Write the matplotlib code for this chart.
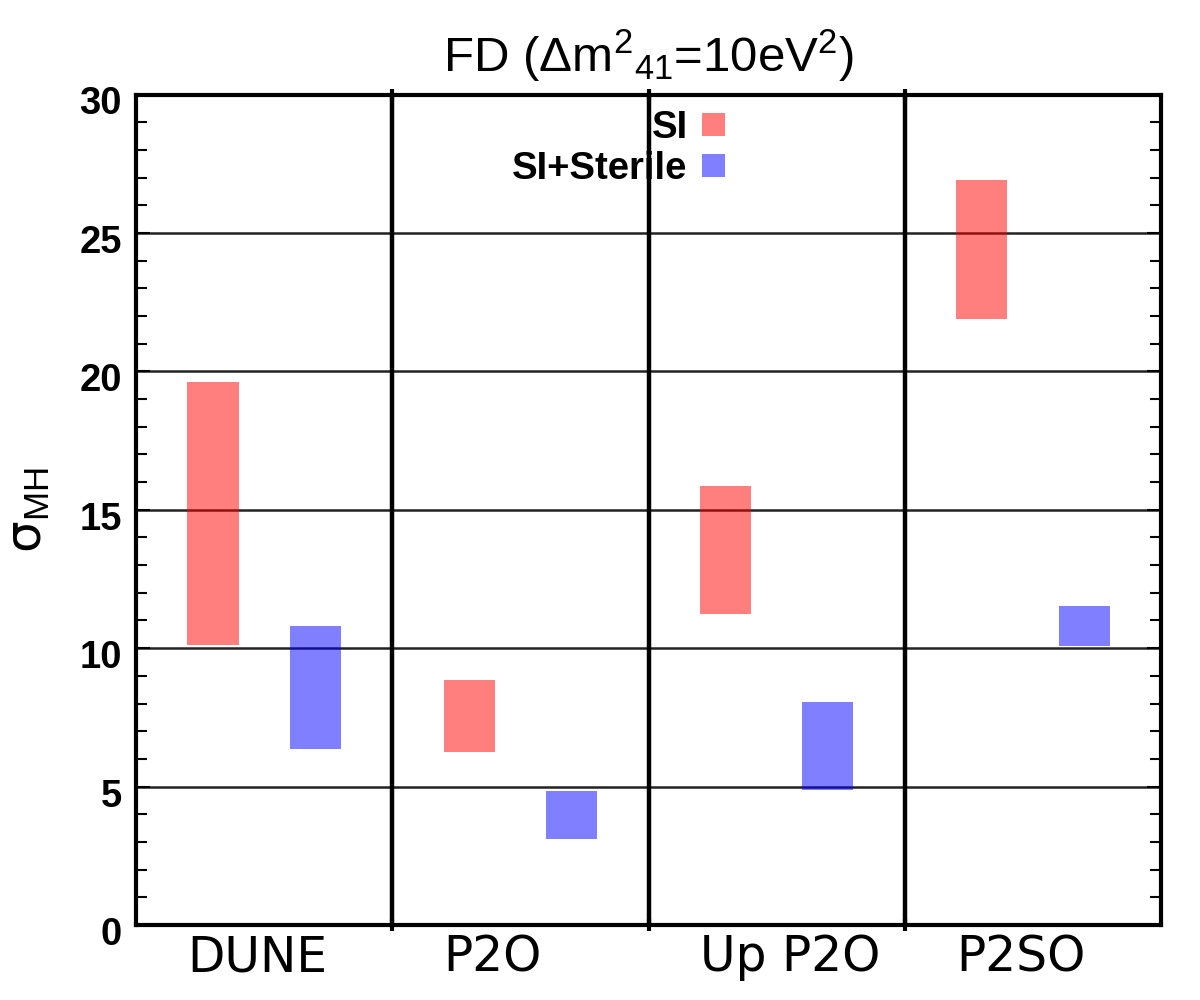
import matplotlib
matplotlib.use("Agg")
import matplotlib.pyplot as plt
from matplotlib.patches import Patch
from matplotlib.ticker import MultipleLocator
import matplotlib.transforms as mtransforms

# data (sigma_MH ranges)
experiments = ["DUNE", "P2O", "Up P2O", "P2SO"]
si_low = [10.11, 6.25, 11.23, 21.89]
si_high = [19.61, 8.84, 15.85, 26.91]
ster_low = [6.35, 3.09, 4.87, 10.07]
ster_high = [10.81, 4.85, 8.06, 11.52]

plt.rcParams['mathtext.fontset'] = 'custom'
plt.rcParams['mathtext.rm'] = 'Liberation Sans'
plt.rcParams['mathtext.it'] = 'Liberation Sans:italic'
plt.rcParams['mathtext.bf'] = 'Liberation Sans:bold'

fig = plt.figure(figsize=(12, 10), dpi=100)
ax = fig.add_axes([136/1200, 75/1000, 1025/1200, 830.5/1000])

xs = range(len(experiments))
red_x = [i + 0.3 for i in xs]
blue_x = [i + 0.7 for i in xs]
ax.bar(red_x, [h - l for h, l in zip(si_high, si_low)], bottom=si_low, width=0.2,
       color='red', alpha=0.5, linewidth=0, zorder=3)
ax.bar(blue_x, [h - l for h, l in zip(ster_high, ster_low)], bottom=ster_low, width=0.2,
       color='blue', alpha=0.5, linewidth=0, zorder=3)

for xv in [1, 2, 3]:
    ax.axvline(xv, color='black', lw=3.2, zorder=2)

ax.set_xlim(0, 4)
ax.set_ylim(0, 30)
ax.yaxis.set_major_locator(MultipleLocator(5))
ax.yaxis.set_minor_locator(MultipleLocator(1))
ax.grid(axis='y', which='major', color='#222222', lw=1.8, zorder=1)

for s in ax.spines.values():
    s.set_linewidth(3)

ax.set_xticks([1, 2, 3])
ax.set_xticklabels([])
ax.tick_params(axis='x', direction='inout', length=8, width=3, top=True)
ax.tick_params(axis='y', which='major', direction='in', length=10, width=1.5,
               left=True, right=True, pad=10)
ax.tick_params(axis='y', which='minor', direction='in', length=8, width=1.5,
               left=True, right=True)

ax.set_yticks([0, 5, 10, 15, 20, 25, 30])
offset = mtransforms.ScaledTranslation(0, -6/100, fig.dpi_scale_trans)
for lab in ax.get_yticklabels():
    lab.set_fontfamily('Liberation Sans')
    lab.set_fontweight('bold')
    lab.set_fontsize(27.5)
    lab.set_transform(lab.get_transform() + offset)

# experiment names under each panel
trans = mtransforms.blended_transform_factory(ax.transData, ax.transAxes)
for i, name in enumerate(experiments):
    ax.annotate(name, xy=(i + 0.2, 0), xycoords=trans, xytext=(0, -8),
                textcoords='offset pixels', ha='left', va='top',
                fontsize=35, fontfamily='DejaVu Sans')

fig.text(28/1200, 0.49, 'σ$_{\\mathrm{MH}}$', rotation=90, ha='center', va='center',
         fontsize=36, fontfamily='DejaVu Sans')

ax.set_title('FD (Δm$^{2}$$_{41}$=10eV$^{2}$)', fontsize=35.5,
             fontfamily='Liberation Sans', pad=16)

handles = [Patch(facecolor='red', alpha=0.5, linewidth=0),
           Patch(facecolor='blue', alpha=0.5, linewidth=0)]
leg = ax.legend(handles, ['SI', 'SI+Sterile'], loc='upper right',
                bbox_to_anchor=(725/1200, 1 - 110/1000), bbox_transform=fig.transFigure,
                frameon=False, markerfirst=False, handlelength=0.6, handleheight=0.58,
                handletextpad=0.38, labelspacing=0.13, borderaxespad=0, borderpad=0,
                prop={'family': 'Liberation Sans', 'weight': 'bold', 'size': 27.5})
for t in leg.get_texts():
    t.set_ha('right')
leg.set_zorder(5)

fig.savefig('out.png', dpi=100, facecolor='white')
